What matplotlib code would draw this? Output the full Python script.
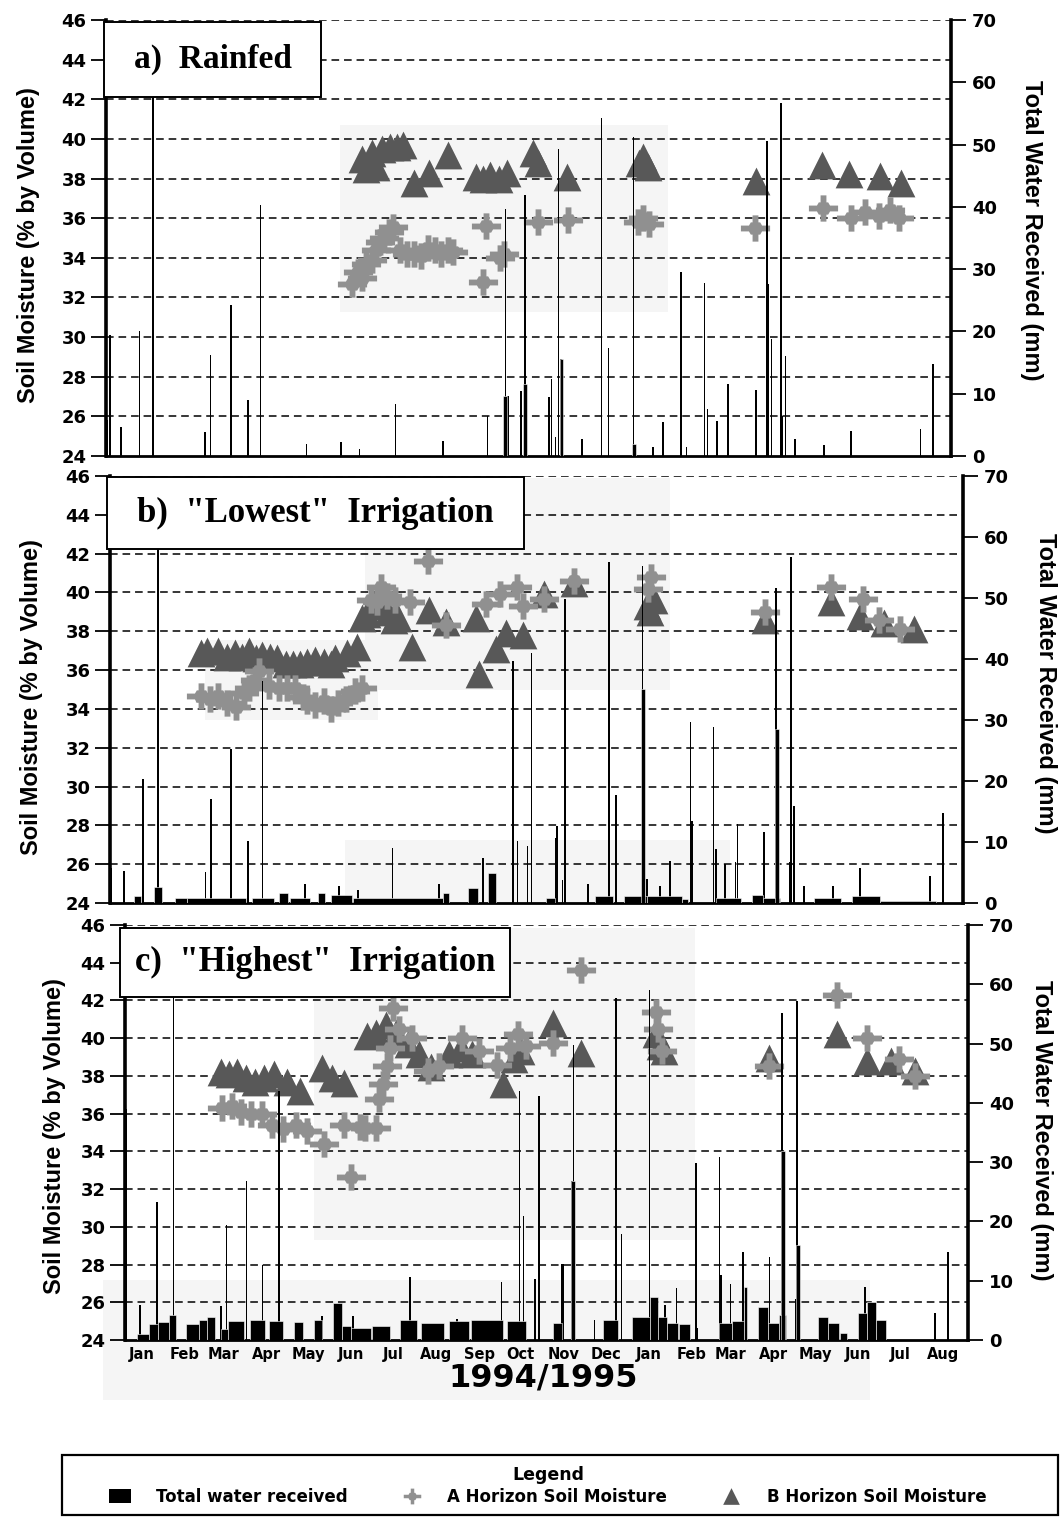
import matplotlib
matplotlib.use("Agg")
import matplotlib.pyplot as plt
from matplotlib.patches import Rectangle
from matplotlib import font_manager

# ---------------- data (days since 1 Jan 1994) ----------------
months = ["Jan", "Feb", "Mar", "Apr", "May", "Jun", "Jul", "Aug", "Sep", "Oct",
          "Nov", "Dec", "Jan", "Feb", "Mar", "Apr", "May", "Jun", "Jul", "Aug"]
month_day = [15, 46, 74, 105, 135, 166, 196, 227, 258, 288,
             319, 349, 380, 411, 439, 470, 500, 531, 561, 592]
left_ticks = [24, 26, 28, 30, 32, 34, 36, 38, 40, 42, 44, 46]
right_ticks = [0, 10, 20, 30, 40, 50, 60, 70]

# Panel a) Rainfed
a_rain_day = [4, 6, 14, 27, 37, 74, 78, 93, 105, 114, 147, 172, 185, 211, 245,
              277, 290, 292, 301, 304, 321, 323, 326, 328, 330, 345, 359, 364, 382, 396,
              403, 416, 420, 433, 435, 442, 450, 470, 478, 479, 481, 488, 489, 491, 498,
              519, 538, 588, 597]
a_rain_mm = [5.7, 19.5, 4.7, 20, 65, 3.9, 16.2, 24.2, 9, 40.3, 2.0, 2.2, 1.1, 8.4, 2.4,
             6.4, 39.7, 9.7, 10.5, 41.9, 9.4, 12.3, 3, 49.3, 15.5, 2.8, 54.2, 17.4, 51.2, 1.5,
             5.4, 29.6, 1.5, 27.8, 7.5, 5.6, 11.5, 10.6, 50.5, 27.6, 18.8, 56.6, 6.5, 16.1, 2.7,
             1.7, 4, 4.3, 14.8]
a_blk_start = [288.5, 302.5, 329, 381]
a_blk_end = [291, 305.5, 331.5, 384]
a_blk_mm = [9.7, 11.6, 15.5, 2.0]
a_B_day = [187, 190, 194, 197, 201, 207, 212, 216, 224, 235, 249, 269, 274, 279, 285,
           291, 310, 313, 334, 386, 389, 392, 470, 517, 537, 559, 574]
a_B_val = [39.0, 38.5, 39.3, 38.6, 39.5, 39.6, 39.6, 39.7, 37.8, 38.3, 39.2, 38.1, 38.0, 38.2, 38.0,
           38.3, 39.3, 38.8, 38.1, 38.8, 39.1, 38.6, 37.9, 38.7, 38.25, 38.15, 37.8]
a_A_day = [180, 184, 187, 190, 194, 197, 200, 203, 206, 209, 214, 219, 224, 229, 234,
           239, 244, 249, 252, 274, 276, 286, 289, 313, 335, 385, 389, 393, 469, 518,
           538, 548, 558, 566, 573]
a_A_val = [32.7, 33.3, 33.0, 33.7, 33.9, 34.4, 34.8, 35.0, 35.3, 35.55, 34.4, 34.2, 34.2, 34.1, 34.5,
           34.4, 34.2, 34.4, 34.3, 32.8, 35.6, 34.0, 34.2, 35.8, 35.9, 35.8, 36.0, 35.7, 35.5, 36.5,
           36.0, 36.3, 36.1, 36.4, 36.0]

# Panel b) "Lowest" irrigation
b_rain_day = [4, 13, 26.5, 37, 71, 75, 89, 101, 111.5, 142, 166, 179.5, 204, 237, 268.5,
              290, 293, 300, 303, 320, 321, 325, 327, 343, 358, 363, 382, 385, 394.5, 401.6,
              416, 417, 432.5, 434, 440.5, 448, 449.6, 468.5, 477, 486.6, 487.7, 489.5, 497, 517.6, 536.5,
              586.6, 596]
b_rain_mm = [5.7, 5.2, 20.4, 65, 5, 17.1, 25.3, 10.1, 36.4, 3.1, 2.8, 2.2, 9, 3.1, 7.4,
             39.7, 10.2, 9.4, 41.0, 10.6, 12.6, 3.7, 49.8, 3.1, 55.9, 17.7, 55.3, 3.9, 2.8, 6.9,
             29.7, 13.5, 28.9, 8.8, 6.4, 6.8, 12.9, 11.6, 51.7, 6.7, 56.8, 15.9, 2.8, 2.8, 5.7,
             4.5, 14.7]
b_blk_start = [20, 34, 49, 58, 104, 123, 131, 151, 160, 176, 240, 258, 272, 313, 348,
               369, 385, 410, 434, 460, 468, 504, 531, 551, 381, 476]
b_blk_end = [25, 40, 58, 100, 120, 130, 145, 156, 175, 240, 244, 265, 278, 320, 361,
             385, 410, 414, 452, 468, 480, 523, 551, 591, 384, 479]
b_blk_mm = [1.1, 2.7, 0.9, 0.8, 0.9, 1.6, 0.9, 1.6, 1.3, 0.8, 1.6, 2.5, 4.9, 0.9, 1.2,
            1.1, 1.2, 0.6, 0.9, 1.3, 0.9, 0.9, 1.2, 0.4, 35.0, 28.5]
b_B_day = [68, 72, 80, 86, 92, 97, 102, 107, 111, 117, 122, 128, 133, 138, 143,
           149, 155, 160, 163, 172, 179, 182.5, 186, 191, 195, 201, 205, 208, 218, 230,
           242, 263.5, 265.6, 278, 285, 297, 312, 333, 385, 387, 390, 469, 516, 537, 554, 575]
b_B_val = [36.9, 37.0, 37.0, 36.7, 36.9, 36.7, 37.0, 36.6, 36.8, 36.7, 36.6, 36.3, 36.3, 36.3, 36.4,
           36.5, 36.4, 36.3, 36.6, 36.9, 37.2, 38.7, 38.9, 39.4, 39.3, 39.0, 38.6, 38.7, 37.2, 39.1,
           38.5, 38.7, 35.8, 37.1, 37.9, 37.8, 39.9, 40.5, 39.3, 39.0, 39.6, 38.6, 39.5, 38.8, 38.45, 38.1]
b_A_day = [68, 74, 80, 86, 93, 98, 102, 106, 109, 116, 123, 129, 135, 140, 143,
           149, 155, 160, 165, 171, 177, 182, 189, 193, 196, 200, 206, 216.5, 229, 242,
           270.6, 280.6, 292.7, 297, 312, 333, 386, 388, 469, 516, 539, 550, 565]
b_A_val = [34.65, 34.5, 34.65, 34.3, 34.1, 34.8, 35.1, 35.5, 35.95, 35.2, 35.1, 35.1, 35.1, 34.6, 34.4,
           34.2, 34.4, 34.0, 34.3, 34.5, 34.9, 35.1, 39.6, 39.5, 40.3, 39.8, 39.6, 39.5, 41.6, 38.3,
           39.4, 39.9, 40.3, 39.3, 39.65, 40.6, 40.2, 40.8, 39.0, 40.3, 39.65, 38.6, 38.1]

# Panel c) "Highest" irrigation
c_rain_day = [4, 14, 26, 38, 72, 76, 90.5, 102, 114, 145, 167, 208, 242, 274, 287,
              290, 298, 301, 317.6, 318.5, 325, 326, 341, 356.5, 360.5, 380.6, 392, 400, 414, 415,
              431, 432, 439, 448, 467, 476, 486, 487, 536, 586, 595.5]
c_rain_mm = [39, 5.9, 23.3, 65, 5.7, 19.4, 26.8, 12.7, 42, 4.1, 4.1, 10.6, 3.5, 9.7, 42,
             21, 10.3, 41.1, 12.9, 12.9, 26.9, 49.8, 3.4, 57.7, 17.9, 59, 5.9, 8.7, 29.8, 2,
             30.8, 10.9, 9.5, 14.8, 14, 55.2, 7, 57.1, 9, 4.5, 14.8]
c_blk_start = [12, 20, 27, 35, 47, 56, 62, 72, 77, 93, 107, 125, 139, 153, 159,
               166, 181, 201, 216, 236, 252, 278, 311, 347, 368, 381, 387, 393, 402, 431,
               440, 449, 459, 466, 474, 502, 509, 518, 531, 537, 544, 324, 475, 486]
c_blk_end = [20, 27, 35, 40, 56, 62, 68, 77, 89, 104, 117, 131, 145, 159, 166,
             180, 194, 213, 233, 251, 275, 292, 318, 358, 381, 387, 393, 401, 410, 440,
             449, 451, 466, 474, 479, 509, 517, 523, 537, 544, 551, 327, 478, 489]
c_blk_mm = [1.0, 2.7, 3.0, 4.2, 2.7, 3.4, 3.8, 1.8, 3.2, 3.4, 3.2, 3.0, 3.4, 6.3, 2.4,
            2.1, 2.4, 3.4, 2.9, 3.2, 3.4, 3.2, 2.8, 3.4, 3.9, 7.3, 3.9, 2.8, 2.7, 2.9,
            3.2, 9.0, 5.6, 2.8, 4.2, 3.9, 2.9, 1.1, 4.5, 6.4, 3.4, 26.9, 31.9, 16.0]
c_B_day = [72, 78, 84, 90, 96.6, 103, 110, 120, 129, 145, 152, 161, 177, 184, 191,
           198, 207, 215, 223, 236, 245, 253, 275, 283, 288, 311, 331, 385, 388, 391,
           467, 515.6, 537, 554.5, 572]
c_B_val = [38.2, 38.1, 38.2, 37.9, 37.7, 37.9, 38.1, 37.7, 37.2, 38.4, 37.9, 37.6, 40.1, 40.3, 40.7,
           40.3, 39.7, 39.15, 38.45, 39.15, 39.5, 39.15, 37.55, 38.9, 39.3, 40.8, 39.2, 40.2, 39.6, 39.3,
           38.95, 40.2, 38.8, 38.8, 38.25]
c_A_day = [73, 80, 86.5, 94, 101.6, 109, 117, 126, 134, 146, 161, 166, 172, 176, 184,
           186, 189, 192, 194, 196, 200, 210, 221, 229, 246, 258, 270.5, 280, 286, 292,
           311, 331, 385, 387, 390, 467, 515.6, 537, 560, 572]
c_A_val = [36.3, 36.4, 36.1, 36.0, 36.0, 35.4, 35.2, 35.4, 35.1, 34.4, 35.4, 32.66, 35.3, 35.25, 35.25,
           36.8, 37.55, 38.5, 39.5, 41.6, 40.5, 40.0, 38.25, 38.5, 40.0, 39.3, 38.6, 39.5, 40.2, 39.6,
           39.75, 43.6, 41.4, 40.5, 39.3, 38.5, 42.3, 40.0, 38.9, 38.0]

titles = ['a)  Rainfed', 'b)  "Lowest"  Irrigation', 'c)  "Highest"  Irrigation']
legend_labels = ["Total water received", "A Horizon Soil Moisture", "B Horizon Soil Moisture"]

# ---------------- layout / style ----------------
W, H = 1064, 1517
fig = plt.figure(figsize=(W / 100, H / 100), dpi=100)
fig.patch.set_facecolor("white")


def fx(x):
    return x / W


def fy(y):
    return 1 - y / H


names = {f.name for f in font_manager.fontManager.ttflist}
narrow = "Liberation Sans Narrow" if "Liberation Sans Narrow" in names else "Liberation Sans"
TICKFONT = dict(family="DejaVu Sans", weight="bold", size=13)

cross_marker = [(-1, -0.2), (-1, 0.2), (-0.45, 0.2), (-0.32, 0.42), (-0.2, 0.42), (-0.2, 0.9),
                (0.2, 0.9), (0.2, 0.42), (0.32, 0.42), (0.45, 0.2), (1, 0.2), (1, -0.2),
                (0.45, -0.2), (0.32, -0.42), (0.2, -0.42), (0.2, -0.9), (-0.2, -0.9),
                (-0.2, -0.42), (-0.32, -0.42), (-0.45, -0.2), (-1, -0.2)]

B_COL = "#585858"
A_COL = "#909090"
SHADE = "#f5f5f5"

panel_px = [(106, 20, 951, 456), (110, 476, 963, 903), (125, 925, 968, 1340)]
title_px = [(104, 22, 321, 97), (107, 477, 524, 549), (120, 928, 510, 997)]
title_size = [24, 25, 25]
ylab_px = [(29, 245), (32, 697), (55, 1136)]
rlab_px = [(1031, 230), (1045, 683), (1041, 1130)]
shade_px = [
    [(340, 125, 668, 312)],
    [(365, 478, 670, 690), (205, 640, 378, 720), (345, 840, 730, 903)],
    [(314, 928, 695, 1240), (103, 1280, 870, 1340)],
]

data = [
    (a_rain_day, a_rain_mm, a_blk_start, a_blk_end, a_blk_mm, a_B_day, a_B_val, a_A_day, a_A_val),
    (b_rain_day, b_rain_mm, b_blk_start, b_blk_end, b_blk_mm, b_B_day, b_B_val, b_A_day, b_A_val),
    (c_rain_day, c_rain_mm, c_blk_start, c_blk_end, c_blk_mm, c_B_day, c_B_val, c_A_day, c_A_val),
]

handles = None
for i, (px, d) in enumerate(zip(panel_px, data)):
    rain_d, rain_mm, bs, be, bmm, Bd, Bv, Ad, Av = d
    x0, y0, x1, y1 = px
    ax = fig.add_axes([fx(x0), fy(y1), (x1 - x0) / W, (y1 - y0) / H])
    ax.set_xlim(3, 610)
    ax.set_ylim(24, 46)
    ax.patch.set_alpha(0)

    for (sx0, sy0, sx1, sy1) in shade_px[i]:
        ax.add_patch(Rectangle(((sx0 - x0) / (x1 - x0), (y1 - sy1) / (y1 - y0)),
                               (sx1 - sx0) / (x1 - x0), (sy1 - sy0) / (y1 - y0),
                               transform=ax.transAxes, facecolor=SHADE,
                               edgecolor="none", zorder=0, clip_on=False))

    for v in left_ticks[1:]:
        ax.axhline(v, color="black", lw=1.1, ls=(0, (5, 3.2)), zorder=0.8)

    sB = ax.scatter(Bd, Bv, marker="^", s=20 ** 2, c=B_COL, linewidths=0, zorder=3)
    sA = ax.scatter(Ad, Av, marker=cross_marker, s=21 ** 2, c=A_COL, linewidths=0, zorder=4)

    ax2 = ax.twinx()
    ax2.set_ylim(0, 70)
    bars = ax2.bar(rain_d, rain_mm, width=1.2, color="black", linewidth=0, zorder=2)
    ax2.bar(bs, bmm, width=[e - s for s, e in zip(bs, be)], align="edge",
            color="black", edgecolor="white", linewidth=0.4, zorder=2)
    if handles is None:
        handles = [bars, sA, sB]

    for a in (ax, ax2):
        a.spines["top"].set_visible(False)
    ax.spines["right"].set_visible(False)
    ax2.spines["left"].set_visible(False)
    ax2.spines["bottom"].set_visible(False)
    ax.spines["left"].set_linewidth(2.6)
    ax.spines["bottom"].set_linewidth(2.0)
    ax2.spines["right"].set_linewidth(2.6)

    ax.set_yticks(left_ticks)
    ax.set_yticklabels([str(v) for v in left_ticks], fontdict=TICKFONT)
    ax.tick_params(axis="y", direction="out", length=11, width=1.3, pad=3)
    ax2.set_yticks(right_ticks)
    ax2.set_yticklabels([str(v) for v in right_ticks], fontdict=TICKFONT)
    ax2.tick_params(axis="y", direction="out", length=11, width=1.3, pad=4)

    if i == 2:
        ax.set_xticks(month_day)
        ax.set_xticklabels(months, fontdict=dict(family="DejaVu Sans", weight="bold", size=10.5))
        ax.tick_params(axis="x", length=0, pad=5)
    else:
        ax.set_xticks([])

    tx0, ty0, tx1, ty1 = title_px[i]
    bx0 = (tx0 - x0) / (x1 - x0)
    bx1 = (tx1 - x0) / (x1 - x0)
    by0 = (y1 - ty1) / (y1 - y0)
    by1 = (y1 - ty0) / (y1 - y0)
    ax2.add_patch(Rectangle((bx0, by0), bx1 - bx0, by1 - by0, transform=ax2.transAxes,
                            facecolor="white", edgecolor="black", lw=1.4, zorder=10, clip_on=False))
    ax2.text((bx0 + bx1) / 2, (by0 + by1) / 2, titles[i], transform=ax2.transAxes,
             ha="center", va="center", fontsize=title_size[i], fontweight="bold",
             family="Liberation Serif", zorder=11)

    lx, ly = ylab_px[i]
    fig.text(fx(lx), fy(ly), "Soil Moisture (% by Volume)", rotation=90, ha="center", va="center",
             family=narrow, weight="bold", fontsize=17)
    rx, ry = rlab_px[i]
    fig.text(fx(rx), fy(ry), "Total Water Received (mm)", rotation=-90, ha="center", va="center",
             family=narrow, weight="bold", fontsize=17)

fig.patches.append(Rectangle((fx(103), fy(1400)), (870 - 103) / W, 60 / H,
                             transform=fig.transFigure, facecolor=SHADE,
                             edgecolor="none", zorder=-1))

fig.text(fx(543), fy(1378), "1994/1995", ha="center", va="center",
         family="DejaVu Sans", weight="bold", fontsize=23)

# legend frame
fig.patches.append(Rectangle((fx(62), fy(1515)), (1058 - 62) / W, 60 / H,
                             transform=fig.transFigure, facecolor="white",
                             edgecolor="black", lw=1.6, zorder=1))
leg = fig.legend(handles, legend_labels,
                 loc="center", bbox_to_anchor=(fx(548), fy(1486)),
                 ncol=3, title="Legend", frameon=False,
                 markerscale=0.6, handlelength=1.3, handleheight=0.9,
                 handletextpad=1.5, columnspacing=3.2, borderpad=0.2, labelspacing=0.2,
                 prop=dict(family="DejaVu Sans", weight="bold", size=12),
                 title_fontproperties=dict(family="DejaVu Sans", weight="bold", size=12.5))
leg.set_zorder(5)

fig.savefig("out.png", dpi=100, facecolor="white")
